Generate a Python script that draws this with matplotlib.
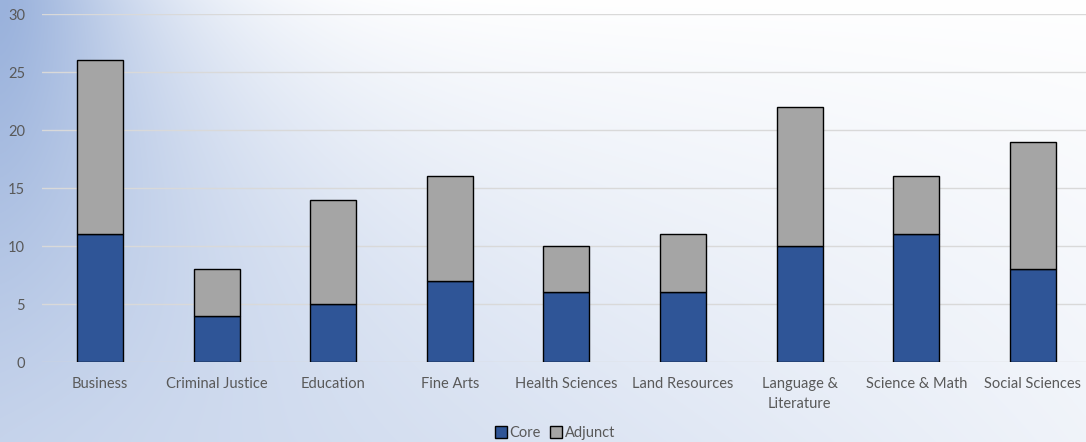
import numpy as np
import matplotlib
matplotlib.use("Agg")
import matplotlib.pyplot as plt
from matplotlib.patches import Patch

categories = ["Business", "Criminal Justice", "Education", "Fine Arts", "Health Sciences",
              "Land Resources", "Language &\nLiterature", "Science & Math", "Social Sciences"]
core = [11, 4, 5, 7, 6, 6, 10, 11, 8]
adjunct = [15, 4, 9, 9, 4, 5, 12, 5, 11]
yticks = [0, 5, 10, 15, 20, 25, 30]

plt.rcParams['font.family'] = ['Lato', 'DejaVu Sans']

W, H = 1086, 442
fig = plt.figure(figsize=(W/100, H/100), dpi=100)

# background gradient: blue at top-left corner / left-bottom, white at top-right
bg = fig.add_axes([0, 0, 1, 1])
yy, xx = np.mgrid[0:H, 0:W]
u = xx / W
v = yy / H
C = np.exp(-(u / (0.15 + 0.15 * v)) ** 1.5) * (1 - v) ** 1.1
B = np.clip(0.57 - 0.42 * u, 0, 1) * v ** 0.85
t = np.clip(C + B, 0, 1)
blue = np.array([0x9a, 0xb2, 0xdc]) / 255
white = np.array([1.0, 1.0, 1.0])
img = white[None, None, :] * (1 - t[..., None]) + blue[None, None, :] * t[..., None]
bg.imshow(img, aspect='auto', extent=[0, 1, 0, 1], origin='upper')
bg.axis('off')

step = 116.6
left = 100 - step / 2
ax = fig.add_axes([left/W, (H-362)/H, 9*step/W, (362-14)/H])
ax.patch.set_alpha(0)
x = np.arange(len(categories))
ax.bar(x, core, width=0.395, color='#2f5597', edgecolor='black', linewidth=1, zorder=3, label='Core')
ax.bar(x, adjunct, width=0.395, bottom=core, color='#a5a5a5', edgecolor='black', linewidth=1, zorder=3, label='Adjunct')

ax.set_xlim(-0.5, 8.5)
ax.set_ylim(0, 30)
ax.set_yticks(yticks)
ax.yaxis.grid(True, color='#d9d9d9', linewidth=1, zorder=0)
ax.set_axisbelow(True)
for s in ax.spines.values():
    s.set_visible(False)
ax.tick_params(axis='both', length=0, labelsize=10.5, colors='#595959')
ax.tick_params(axis='y', pad=12)
ax.tick_params(axis='x', pad=11)
ax.set_xticks(x)
ax.set_xticklabels(categories, va='top', linespacing=1.5)

handles = [Patch(facecolor='#2f5597', edgecolor='black', label='Core'),
           Patch(facecolor='#a5a5a5', edgecolor='black', label='Adjunct')]
fig.legend(handles=handles, loc='center', bbox_to_anchor=(555/W, 1 - 433/H), ncol=2,
           frameon=False, fontsize=10.5, handlelength=0.8, handleheight=0.8,
           handletextpad=0.2, columnspacing=0.6, labelcolor='#595959')

fig.savefig('out.png', dpi=100)
